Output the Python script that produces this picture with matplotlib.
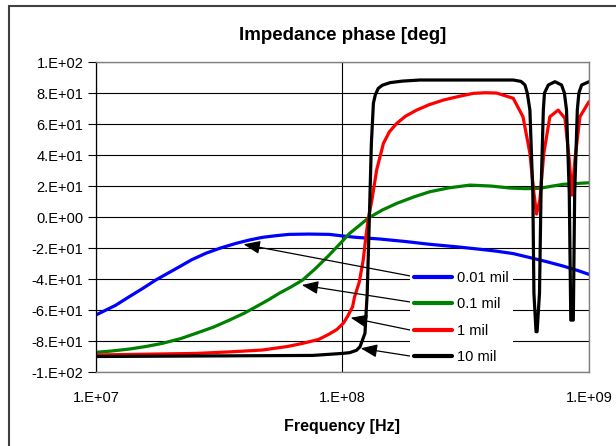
# -*- coding: utf-8 -*-

import matplotlib
import matplotlib.pyplot as plt
from matplotlib.patches import Rectangle

matplotlib.use('Agg')
plt.rcParams['font.family'] = ['Liberation Sans', 'DejaVu Sans']

# 0.01 mil
f_001 = [1.0e7, 1.2e7, 1.365e7, 1.55e7, 1.75e7, 2.18e7, 2.45e7, 2.79e7, 3.2e7,
         3.7e7, 4.2e7, 4.74e7, 5.4e7, 6.08e7, 7.3e7, 8.84e7, 1.0e8, 1.135e8,
         1.42e8, 1.8e8, 2.26e8, 2.9e8, 3.61e8, 4.2e8, 4.93e8, 5.7e8, 6.73e8,
         7.8e8, 9.0e8, 1.0e9]
p_001 = [-63.2, -57.0, -51.4, -46.0, -40.6, -32.1, -27.5, -23.4, -20.0,
         -17.0, -14.8, -13.1, -12.0, -11.2, -11.0, -11.2, -12.2, -13.1,
         -14.2, -15.8, -17.6, -19.2, -20.8, -22.0, -23.6, -26.0, -28.8,
         -31.5, -34.5, -37.0]

# 0.1 mil
f_01 = [1.0e7, 1.15e7, 1.365e7, 1.6e7, 1.86e7, 2.2e7, 2.55e7, 3.0e7, 3.48e7,
        4.0e7, 4.46e7, 5.0e7, 5.54e7, 6.2e7, 6.9e7, 7.8e7, 8.84e7, 9.8e7,
        1.07e8, 1.17e8, 1.27e8, 1.45e8, 1.66e8, 1.95e8, 2.26e8, 2.7e8, 3.29e8,
        4.0e8, 4.79e8, 5.5e8, 6.32e8, 7.0e8, 7.87e8, 8.8e8, 1.0e9]
p_01 = [-87.3, -86.5, -85.2, -83.5, -81.5, -78.5, -75.0, -71.0, -66.5,
        -62.0, -57.9, -53.5, -49.2, -45.0, -40.6, -33.0, -24.5, -17.0,
        -10.5, -5.5, -0.8, 4.5, 8.8, 13.0, 16.3, 18.8, 20.6,
        20.0, 18.7, 18.3, 18.5, 19.8, 21.1, 21.6, 22.1]

# 1 mil
f_1 = [1.0e7, 2.55e7, 3.5e7, 4.74e7, 6.0e7, 6.9e7, 8.0e7, 8.84e7, 9.5e7,
       1.007e8, 1.05e8, 1.099e8, 1.12e8, 1.17e8, 1.214e8, 1.24e8, 1.27e8,
       1.32e8, 1.376e8, 1.466e8, 1.55e8, 1.66e8, 1.8e8, 2.0e8, 2.25e8, 2.57e8,
       3.0e8, 3.4e8, 3.8e8, 4.22e8, 4.93e8, 5.4e8, 5.76e8, 5.98e8, 6.13e8,
       6.32e8, 6.56e8, 6.94e8, 7.5e8, 7.99e8, 8.32e8, 8.53e8, 8.77e8, 9.19e8,
       1.0e9]
p_1 = [-89.0, -88.0, -87.0, -85.8, -83.5, -81.5, -79.0, -75.5, -72.5,
       -68.6, -64.0, -57.9, -51.4, -42.0, -27.7, -15.0, -1.9,
       12.0, 30.3, 47.5, 55.0, 60.4, 65.0, 69.0, 72.5, 75.5,
       78.0, 79.8, 80.2, 80.0, 76.6, 64.7, 41.1, 15.3, 1.9,
       11.0, 41.1, 64.7, 69.0, 63.7, 36.8, 14.2, 36.8, 64.7,
       74.4]

# 10 mil
f_10 = [1.0e7, 7.57e7, 1.0e8, 1.07e8, 1.14e8, 1.178e8, 1.234e8, 1.26e8, 1.285e8,
        1.31e8, 1.335e8, 1.36e8, 1.397e8, 1.45e8, 1.56e8, 1.75e8, 2.06e8, 4.93e8,
        5.3e8, 5.5e8, 5.62e8, 5.76e8, 5.92e8, 5.98e8, 6.1e8, 6.16e8, 6.3e8,
        6.39e8, 6.53e8, 6.6e8, 6.84e8, 7.28e8, 7.74e8, 7.95e8, 8.11e8, 8.32e8,
        8.44e8, 8.64e8, 8.75e8, 8.97e8, 9.1e8, 9.34e8, 1.0e9]
p_10 = [-90.0, -89.3, -88.0, -87.5, -86.0, -83.7, -75.0, -49.2, -1.9,
        47.5, 73.4, 79.0, 83.0, 85.0, 86.7, 87.7, 88.4, 88.4,
        87.5, 85.2, 80.0, 69.0, 15.3, -49.2, -74.0, -74.0, -49.2,
        15.3, 69.0, 80.0, 85.2, 87.3, 85.2, 80.0, 69.0, 15.3,
        -66.5, -66.5, 15.3, 69.0, 80.0, 85.2, 87.3]

labels = ['0.01 mil', '0.1 mil', '1 mil', '10 mil']
colors = ['#0000FF', '#008000', '#FF0000', '#000000']
freqs = [f_001, f_01, f_1, f_10]
phases = [p_001, p_01, p_1, p_10]

# arrow tips (on curves) and tails (at legend)
arrow_tips = [(3.97e7, -17.6), (6.84e7, -43.9), (1.08e8, -65.0), (1.186e8, -84.7)]
arrow_tails = [(1.88e8, -38.0), (1.88e8, -54.8), (1.88e8, -72.9), (1.88e8, -89.7)]

fig = plt.figure(figsize=(6.16, 4.46), dpi=100)
ax = fig.add_axes([0.1558, 0.1659, 0.8003, 0.695])

for f, p, lab, c in zip(freqs, phases, labels, colors):
    ax.plot(f, p, color=c, lw=2.3, label=lab, solid_joinstyle='round',
            solid_capstyle='round')

for tip, tail in zip(arrow_tips, arrow_tails):
    ax.annotate('', xy=tip, xytext=tail, xycoords='data', textcoords='data',
                arrowprops=dict(arrowstyle='-|>,head_length=1.0,head_width=0.4',
                                color='black', lw=0.9, shrinkA=0, shrinkB=0))

ax.set_xscale('log')
ax.set_xlim(1e7, 1e9)
ax.set_ylim(-100, 100)
ax.set_yticks(range(-100, 101, 20))
ax.set_yticklabels(['-1.E+02', '-8.E+01', '-6.E+01', '-4.E+01', '-2.E+01', '0.E+00',
                    '2.E+01', '4.E+01', '6.E+01', '8.E+01', '1.E+02'])
ax.set_xticks([1e7, 1e8, 1e9])
ax.set_xticklabels(['1.E+07', '1.E+08', '1.E+09'])
ax.minorticks_off()
ax.tick_params(axis='y', length=6, width=0.8, labelsize=10.5, pad=3)
ax.tick_params(axis='x', length=0, labelsize=10.5, pad=14)

ax.grid(True, axis='y', color='black', lw=0.8)
ax.grid(True, axis='x', color='black', lw=0.8)
ax.set_axisbelow(True)
for s in ['top', 'right', 'bottom']:
    ax.spines[s].set_color('#808080')
    ax.spines[s].set_linewidth(1.0)
ax.spines['left'].set_color('black')
ax.spines['left'].set_linewidth(0.9)

ax.set_title('Impedance phase [deg]', fontsize=13.5, fontweight='bold', pad=16)
ax.set_xlabel('Frequency [Hz]', fontsize=11.5, fontweight='bold', labelpad=10)

leg = ax.legend(loc='upper left', bbox_to_anchor=(0.637, 0.34), fontsize=10.5,
                frameon=True, fancybox=False, edgecolor='none', framealpha=1,
                handlelength=2.6, handletextpad=0.3, labelspacing=0.85,
                borderpad=0.3, borderaxespad=0)
leg.get_frame().set_facecolor('white')
for h in leg.get_lines():
    h.set_linewidth(3)

fig.patches.append(Rectangle((9 / 616, -0.1), 1.2, 1.1 - 6 / 446,
                             transform=fig.transFigure, fill=False,
                             edgecolor='#404040', lw=1.5))

fig.savefig('out.png', dpi=100)
